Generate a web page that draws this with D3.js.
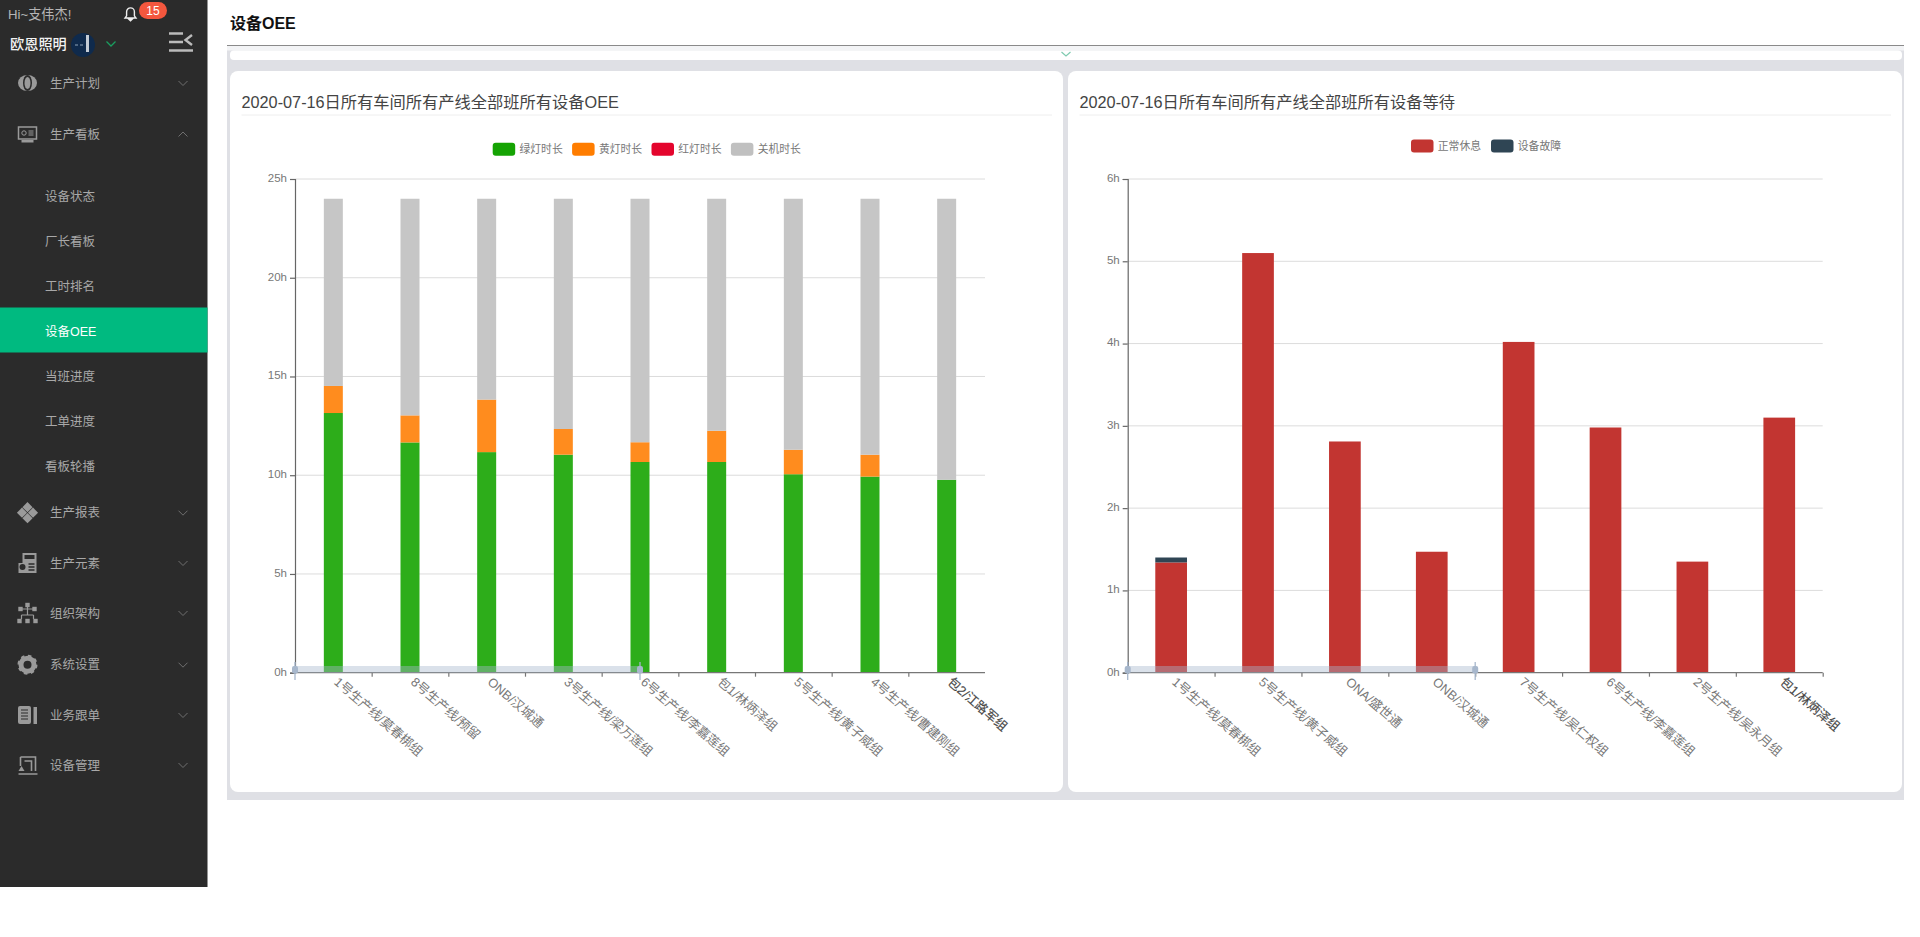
<!DOCTYPE html>
<html>
<head>
<meta charset="utf-8">
<title>设备OEE</title>
<script src="https://cdn.jsdelivr.net/npm/d3@7"></script>
<style>
    html, body { margin: 0; padding: 0; background: #fff; overflow: hidden; }
    svg { display: block; }
    text { font-family: "Liberation Sans", "Noto Sans CJK SC", sans-serif; }
</style>
</head>
<body>
<svg id="page" width="1920" height="937"></svg>
<script>
// OEE chart data (hours)
const oeeLines = ['1号生产线/莫春梆组', '8号生产线/预留', 'ONB/汉城通', '3号生产线/梁万莲组', '6号生产线/李嘉莲组', '包1/林炳泽组', '5号生产线/黄子威组', '4号生产线/曹建刚组', '包2/江路军组'];
const greenHours = [13.15, 11.66, 11.17, 11.04, 10.67, 10.67, 10.05, 9.93, 9.77];
const yellowHours = [1.37, 1.37, 2.66, 1.30, 1.00, 1.58, 1.24, 1.11, 0];
const redHours = [0, 0, 0, 0, 0, 0, 0, 0, 0];
const offHours = [9.48, 10.97, 10.17, 11.66, 12.33, 11.75, 12.71, 12.96, 14.23];
const oeeSeriesNames = ['绿灯时长', '黄灯时长', '红灯时长', '关机时长'];
const oeeTicks = [0, 5, 10, 15, 20, 25];

// Waiting chart data (hours)
const waitLines = ['1号生产线/莫春梆组', '5号生产线/黄子威组', 'ONA/盛世通', 'ONB/汉城通', '7号生产线/吴仁权组', '6号生产线/李嘉莲组', '2号生产线/吴永月组', '包1/林炳泽组'];
const restHours = [1.34, 5.10, 2.81, 1.47, 4.02, 2.98, 1.35, 3.10];
const faultHours = [0.06, 0, 0, 0, 0, 0, 0, 0];
const waitSeriesNames = ['正常休息', '设备故障'];
const waitTicks = [0, 1, 2, 3, 4, 5, 6];

// Sidebar text
const mainMenu = ['生产计划', '生产看板', '生产报表', '生产元素', '组织架构', '系统设置', '业务跟单', '设备管理'];
const subMenu = ['设备状态', '厂长看板', '工时排名', '设备OEE', '当班进度', '工单进度', '看板轮播'];

const svg = d3.select('#page');

// Sidebar
const MENU_Y = [83, 134, 512.7, 563, 613, 664.7, 715, 765];
const SUB_Y = [196, 241, 286, 331, 376, 421, 466];
const ICON = '#9a9a9a';

function drawSidebar() {
    const side = svg.append('g');
    side.append('rect').attr('width', 207.5).attr('height', 887).attr('fill', '#2b2b2b');
    side.append('rect').attr('y', 307.5).attr('width', 207.5).attr('height', 45).attr('fill', '#00ba80');

    side.append('text').attr('x', 8).attr('y', 19).attr('font-size', 13.2).attr('fill', '#b5b5b5').text('Hi~支伟杰!');

    // bell
    side.append('path').attr('d', 'M125 18h11l-1.6-2.2v-4a3.9 3.9 0 0 0-7.8 0v4z M128.8 19.2h3.4l-1.7 1.6z')
        .attr('fill', 'none').attr('stroke', '#eee').attr('stroke-width', 1.4);
    side.append('rect').attr('x', 139).attr('y', 2).attr('width', 28).attr('height', 17).attr('rx', 8.5).attr('fill', '#f4573e');
    side.append('text').attr('x', 153).attr('y', 14.5).attr('text-anchor', 'middle').attr('font-size', 12).attr('fill', '#fff').text('15');

    side.append('text').attr('x', 10).attr('y', 49).attr('font-size', 14.2).attr('font-weight', 500).attr('fill', '#f2f2f2').text('欧恩照明');
    side.append('circle').attr('cx', 83).attr('cy', 45).attr('r', 12).attr('fill', '#0f2a4c');
    side.append('rect').attr('x', 86).attr('y', 35).attr('width', 3).attr('height', 17).attr('fill', '#c4ccd6');
    side.append('path').attr('d', 'M75 45h3M80 45h3').attr('stroke', '#8fa3b8').attr('stroke-width', 1);
    side.append('path').attr('d', 'M106.5 41.5l4.5 4.5 4.5-4.5').attr('fill', 'none').attr('stroke', '#1a9e60').attr('stroke-width', 1.3);

    // collapse icon
    side.append('path').attr('d', 'M169 33.5h14M169 42h14M169 50.5h24').attr('stroke', '#bbb').attr('stroke-width', 2.4);
    side.append('path').attr('d', 'M192 35l-6.5 5 6.5 5').attr('fill', 'none').attr('stroke', '#bbb').attr('stroke-width', 2.4);

    side.selectAll('.menu').data(mainMenu).enter().append('text')
        .attr('class', 'menu').attr('x', 50).attr('y', (d, i) => MENU_Y[i] + 4.5)
        .attr('font-size', 12.5).attr('fill', '#a8a8a8').text(d => d);

    side.selectAll('.chev').data(mainMenu).enter().append('path')
        .attr('class', 'chev')
        .attr('d', (d, i) => i === 1
            ? `M178.5 ${MENU_Y[i] + 2.5}l4.5-4.5 4.5 4.5`
            : `M178.5 ${MENU_Y[i] - 2}l4.5 4.5 4.5-4.5`)
        .attr('fill', 'none').attr('stroke', '#6f6f6f').attr('stroke-width', 1);

    side.selectAll('.sub').data(subMenu).enter().append('text')
        .attr('class', 'sub').attr('x', 45).attr('y', (d, i) => SUB_Y[i] + 4.5)
        .attr('font-size', 12.5).attr('fill', (d, i) => i === 3 ? '#fff' : '#a8a8a8').text(d => d);

    // menu icons, drawn around their own origin
    const icons = [
        g => {
            g.append('ellipse').attr('rx', 9.5).attr('ry', 8).attr('fill', ICON);
            g.append('ellipse').attr('rx', 4.5).attr('ry', 8).attr('fill', '#2b2b2b');
            g.append('ellipse').attr('rx', 3).attr('ry', 6).attr('fill', ICON);
        },
        g => {
            g.append('rect').attr('x', -9).attr('y', -7).attr('width', 18).attr('height', 12).attr('fill', 'none').attr('stroke', ICON).attr('stroke-width', 1.5);
            g.append('circle').attr('cx', -3.5).attr('cy', -1).attr('r', 2.2).attr('fill', 'none').attr('stroke', ICON);
            g.append('path').attr('d', 'M1-3h5M1-1h5M1 1h5').attr('stroke', ICON);
            g.append('rect').attr('x', -6).attr('y', 6).attr('width', 12).attr('height', 2.5).attr('fill', ICON);
        },
        g => {
            [[0, -5.5], [-5.5, 0], [5.5, 0], [0, 5.5]].forEach(p => {
                g.append('rect').attr('x', -3.6).attr('y', -3.6).attr('width', 7.2).attr('height', 7.2)
                    .attr('fill', ICON).attr('transform', `translate(${p[0]},${p[1]}) rotate(45)`);
            });
        },
        g => {
            g.append('path').attr('d', 'M-5-10h14v20h-18v-10h4z').attr('fill', ICON);
            g.append('rect').attr('x', -3).attr('y', -8).attr('width', 10).attr('height', 4).attr('fill', '#2b2b2b');
            g.append('circle').attr('cx', -5).attr('cy', 4).attr('r', 3).attr('fill', '#2b2b2b');
            g.append('path').attr('d', 'M1 1h6M1 4h6M1 7h6').attr('stroke', '#2b2b2b').attr('stroke-width', 1.4);
        },
        g => {
            g.append('path').attr('d', 'M0-6V2M-6 2V6M6 2V6M-6 2H6M-7-4H7').attr('stroke', ICON).attr('stroke-width', 1.2);
            [[-7, -4], [7, -4], [0, -8], [-8, 8], [0, 8], [8, 8]].forEach(p => {
                g.append('rect').attr('x', p[0] - 2.2).attr('y', p[1] - 2.2).attr('width', 4.4).attr('height', 4.4).attr('fill', ICON);
            });
        },
        g => {
            g.append('circle').attr('r', 6.5).attr('fill', 'none').attr('stroke', ICON).attr('stroke-width', 5);
            g.append('circle').attr('r', 9).attr('fill', 'none').attr('stroke', ICON).attr('stroke-width', 2).attr('stroke-dasharray', '3.5 3.6');
        },
        g => {
            g.append('rect').attr('x', -9.5).attr('y', -9).attr('width', 13).attr('height', 18).attr('rx', 2).attr('fill', ICON);
            g.append('rect').attr('x', 6).attr('y', -8).attr('width', 3.5).attr('height', 17).attr('fill', ICON);
            g.append('path').attr('d', 'M-6.5-5h7M-6.5-2h7M-6.5 1h7M-6.5 4h7').attr('stroke', '#2b2b2b').attr('stroke-width', 1.2);
        },
        g => {
            g.append('path').attr('d', 'M-7-8H8V6M-7-8V1M-3-4H4V6M-9 9H10').attr('fill', 'none').attr('stroke', ICON).attr('stroke-width', 1.6);
            g.append('path').attr('d', 'M-9 6l3-5 3 5z').attr('fill', ICON);
        }
    ];
    icons.forEach((draw, i) => draw(side.append('g').attr('transform', `translate(27.5,${MENU_Y[i]})`)));
}

// Page header and panel background
function drawFrame() {
    svg.append('text').attr('x', 230).attr('y', 29).attr('font-size', 16).attr('font-weight', 700).attr('fill', '#111').text('设备OEE');
    svg.append('rect').attr('x', 227).attr('y', 49).attr('width', 1677).attr('height', 751).attr('fill', '#dfe0e5');
    svg.append('rect').attr('x', 227).attr('y', 45.5).attr('width', 1677).attr('height', 5).attr('fill', '#f3f4f6');
    svg.append('line').attr('x1', 227).attr('x2', 1904).attr('y1', 45.5).attr('y2', 45.5).attr('stroke', '#8a8a8a').attr('stroke-width', 1);
    svg.append('rect').attr('x', 230).attr('y', 50.5).attr('width', 1672).attr('height', 9.5).attr('rx', 4).attr('fill', '#fff');
    svg.append('path').attr('d', 'M1061.5 52l4.5 4 4.5-4').attr('fill', 'none').attr('stroke', '#7fcbb0').attr('stroke-width', 1.2);
}

// One card holding a stacked bar chart
function drawCard(opts) {
    const card = svg.append('g');
    card.append('rect').attr('x', opts.cardX).attr('y', 71).attr('width', opts.cardW).attr('height', 721).attr('rx', 8).attr('fill', '#fff');
    card.append('text').attr('x', opts.titleX).attr('y', 107.5).attr('font-size', 16.25).attr('fill', '#444').text(opts.title);
    card.append('line').attr('x1', opts.titleX).attr('x2', opts.cardX + opts.cardW - 11)
        .attr('y1', 115).attr('y2', 115).attr('stroke', '#eee').attr('stroke-width', 1);

    // legend
    const legend = card.selectAll('.legend').data(opts.names).enter().append('g')
        .attr('transform', (d, i) => `translate(${opts.legendX + i * opts.legendStep},${opts.legendY})`);
    legend.append('rect').attr('width', 22.5).attr('height', 13).attr('rx', 3).attr('fill', (d, i) => opts.legendColors[i]);
    legend.append('text').attr('x', 26.8).attr('y', 10.5).attr('font-size', 10.8).attr('fill', '#777').text(d => d);

    const top = 179, bottom = 672.7;
    const x = d3.scaleBand().domain(opts.categories).range([opts.left, opts.right]);
    const y = d3.scaleLinear().domain([0, d3.max(opts.ticks)]).range([bottom, top]);

    // grid
    card.selectAll('.grid').data(opts.ticks.slice(1)).enter().append('line')
        .attr('x1', opts.left).attr('x2', opts.right)
        .attr('y1', d => y(d)).attr('y2', d => y(d))
        .attr('stroke', '#dcdcdc').attr('stroke-width', 1);

    // bars
    const rows = opts.categories.map((c, i) => {
        const row = { category: c };
        opts.series.forEach((s, k) => { row[k] = s[i]; });
        return row;
    });
    const stack = d3.stack().keys(d3.range(opts.series.length))(rows);
    const barX = (x.bandwidth() - opts.barWidth) / 2;
    card.selectAll('.layer').data(stack).enter().append('g')
        .attr('fill', (d, i) => opts.barColors[i])
        .selectAll('rect').data(d => d).enter().append('rect')
        .attr('x', d => x(d.data.category) + barX)
        .attr('y', d => y(d[1]))
        .attr('width', opts.barWidth)
        .attr('height', d => y(d[0]) - y(d[1]));

    // y axis
    const yAxis = card.append('g').attr('transform', `translate(${opts.left},0)`)
        .call(d3.axisLeft(y).tickValues(opts.ticks).tickFormat(d => d + 'h').tickSize(5).tickPadding(3));
    yAxis.selectAll('path, line').attr('stroke', '#666').attr('stroke-width', 1.2);
    yAxis.selectAll('text').attr('font-size', 11.5).attr('font-family', null).attr('fill', '#777').attr('dy', '0.2em');

    // x axis ticks sit on the band edges
    const edges = d3.scaleLinear().domain([0, opts.categories.length]).range([opts.left, opts.right]);
    const edgeAxis = card.append('g').attr('transform', `translate(0,${bottom})`)
        .call(d3.axisBottom(edges).tickValues(d3.range(1, opts.categories.length + opts.lastTick)).tickFormat('').tickSize(4));
    edgeAxis.selectAll('path, line').attr('stroke', '#777').attr('stroke-width', 1.2);
    edgeAxis.select('path').attr('d', `M${opts.left},0H${opts.right}`);

    // x labels
    card.selectAll('.xlabel').data(opts.categories).enter().append('text')
        .attr('transform', d => `translate(${x(d) + x.bandwidth() / 2},${bottom + 10.5}) rotate(41)`)
        .attr('font-size', 12.7)
        .attr('fill', (d, i) => i === opts.categories.length - 1 ? '#444' : '#777')
        .attr('stroke', (d, i) => i === opts.categories.length - 1 ? '#555' : 'none')
        .attr('stroke-width', 0.15)
        .text(d => d);

    // data zoom slider, half way along the axis
    const sliderEnd = opts.left + (opts.right - opts.left) / 2;
    card.append('rect').attr('x', opts.left).attr('y', 666).attr('width', sliderEnd - opts.left).attr('height', 6.7)
        .attr('fill', '#a7b7cc').attr('opacity', 0.42);
    [opts.left, sliderEnd].forEach(h => {
        card.append('line').attr('x1', h).attr('x2', h).attr('y1', 662).attr('y2', 680).attr('stroke', '#a7b7cc').attr('stroke-width', 1.3);
        card.append('rect').attr('x', h - 3).attr('y', 666).attr('width', 6).attr('height', 7.5).attr('rx', 2).attr('fill', '#a7b7cc');
    });
}

drawSidebar();
drawFrame();

drawCard({
    cardX: 230, cardW: 833,
    titleX: 241.5,
    title: '2020-07-16日所有车间所有产线全部班所有设备OEE',
    names: oeeSeriesNames,
    legendX: 492.7, legendY: 142.7, legendStep: 79.4,
    legendColors: ['#15a303', '#ff7d00', '#e4052d', '#c0c0c0'],
    barColors: ['#2dad1a', '#ff8c1e', '#e4052d', '#c6c6c6'],
    categories: oeeLines,
    series: [greenHours, yellowHours, redHours, offHours],
    ticks: oeeTicks,
    left: 295, right: 985,
    barWidth: 19,
    lastTick: 0
});

drawCard({
    cardX: 1068, cardW: 834,
    titleX: 1079.5,
    title: '2020-07-16日所有车间所有产线全部班所有设备等待',
    names: waitSeriesNames,
    legendX: 1411, legendY: 139.5, legendStep: 80,
    legendColors: ['#c23531', '#2f4554'],
    barColors: ['#c23531', '#2f4554'],
    categories: waitLines,
    series: [restHours, faultHours],
    ticks: waitTicks,
    left: 1127.7, right: 1822.7,
    barWidth: 31.7,
    lastTick: 1
});
</script>
</body>
</html>
